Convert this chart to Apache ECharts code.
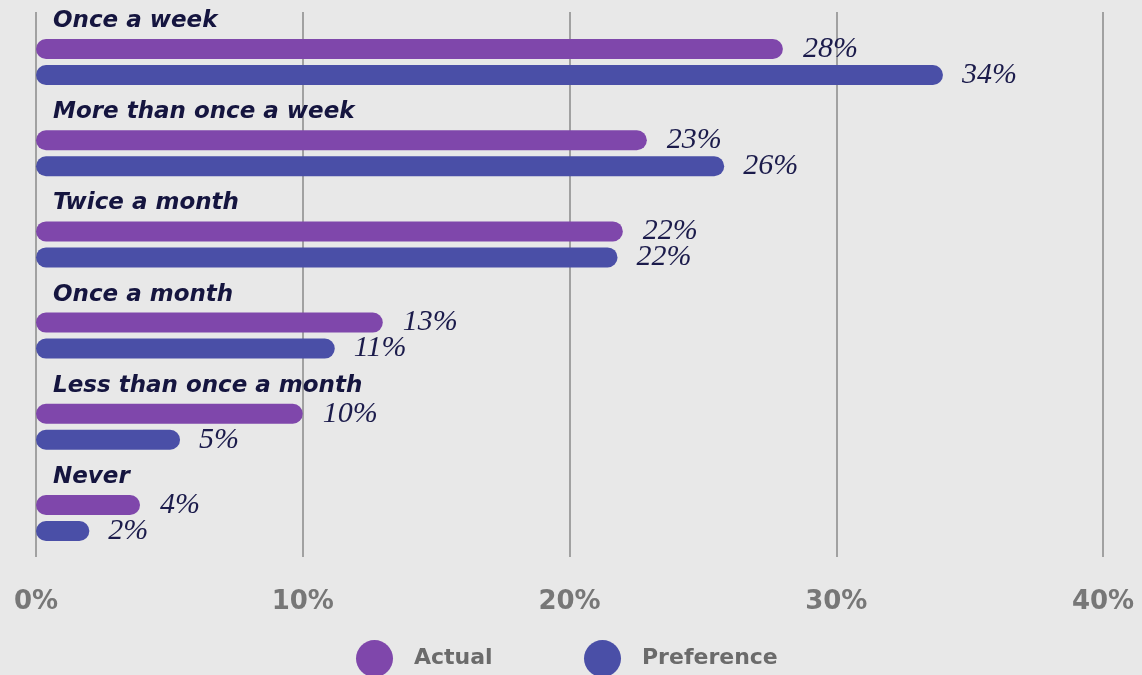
<!DOCTYPE html>
<html>
<head>
<meta charset="utf-8">
<script src="https://cdn.jsdelivr.net/npm/echarts@6/dist/echarts.min.js"></script>
<style>
html,body{margin:0;padding:0;background:#e8e8e8;}
#chart{width:1142px;height:675px;}
</style>
</head>
<body>
<div id="chart"></div>
<script>
const categories = ['Once a week', 'More than once a week', 'Twice a month', 'Once a month', 'Less than once a month', 'Never'];
const actual = [28, 22.9, 22, 13, 10, 3.9];
const preference = [34, 25.8, 21.8, 11.2, 5.4, 2];
const seriesNames = ['Actual', 'Preference'];
const xTicks = [0, 10, 20, 30, 40];

const chart = echarts.init(document.getElementById('chart'));
const labelFont = { fontFamily: 'Liberation Serif', fontStyle: 'italic', fontSize: 30, color: '#1b1b4b' };
const pct = p => Math.round(p.value) + '%';
const option = {
  backgroundColor: '#e8e8e8',
  animation: false,
  grid: [
    { left: 36, right: 39, top: 12, bottom: 118 },
    { left: 36, right: 39, top: 16.4, bottom: 111.4 }
  ],
  xAxis: [
    {
      gridIndex: 0, type: 'value', min: xTicks[0], max: xTicks[xTicks.length - 1], interval: 10,
      axisLine: { show: false }, axisTick: { show: false },
      splitLine: { show: true, lineStyle: { color: '#8a8a8a', width: 1.5 } },
      axisLabel: { formatter: '{value}%', margin: 32, fontFamily: 'DejaVu Sans', fontWeight: 'bold', fontSize: 26, color: '#777777' }
    },
    {
      gridIndex: 1, type: 'value', min: xTicks[0], max: xTicks[xTicks.length - 1],
      show: false
    }
  ],
  yAxis: [
    { gridIndex: 0, type: 'category', data: categories, inverse: true, show: false },
    {
      gridIndex: 1, type: 'category', data: categories, inverse: true,
      axisLine: { show: false }, axisTick: { show: false }, splitLine: { show: false },
      axisLabel: {
        inside: true, margin: 17, align: 'left', verticalAlign: 'middle',
        formatter: v => '{c|' + v + '}',
        rich: {
          c: { padding: [0, 0, 82, 0], fontFamily: 'DejaVu Sans', fontWeight: 'bold', fontStyle: 'italic', fontSize: 23, color: '#15153f' }
        }
      }
    }
  ],
  legend: [
    {
      data: [seriesNames[0]], left: 356, top: 640, padding: 0, icon: 'circle', itemWidth: 37, itemHeight: 37,
      textStyle: { fontFamily: 'DejaVu Sans', fontWeight: 'bold', fontSize: 22, color: '#6b6b6b', padding: [0, 0, 0, 16] }
    },
    {
      data: [seriesNames[1]], left: 584, top: 640, padding: 0, icon: 'circle', itemWidth: 37, itemHeight: 37,
      textStyle: { fontFamily: 'DejaVu Sans', fontWeight: 'bold', fontSize: 22, color: '#6b6b6b', padding: [0, 0, 0, 16] }
    }
  ],
  series: [
    {
      name: seriesNames[0], type: 'bar', xAxisIndex: 1, yAxisIndex: 1, data: actual,
      barWidth: 20, barGap: '30%',
      itemStyle: { color: '#7f47ab', borderRadius: 10 },
      label: { show: true, position: 'right', distance: 20, formatter: pct, ...labelFont }
    },
    {
      name: seriesNames[1], type: 'bar', xAxisIndex: 1, yAxisIndex: 1, data: preference,
      barWidth: 20, barGap: '30%',
      itemStyle: { color: '#4a4fa7', borderRadius: 10 },
      label: { show: true, position: 'right', distance: 19, formatter: pct, ...labelFont }
    }
  ]
};
chart.setOption(option);
</script>
</body>
</html>
